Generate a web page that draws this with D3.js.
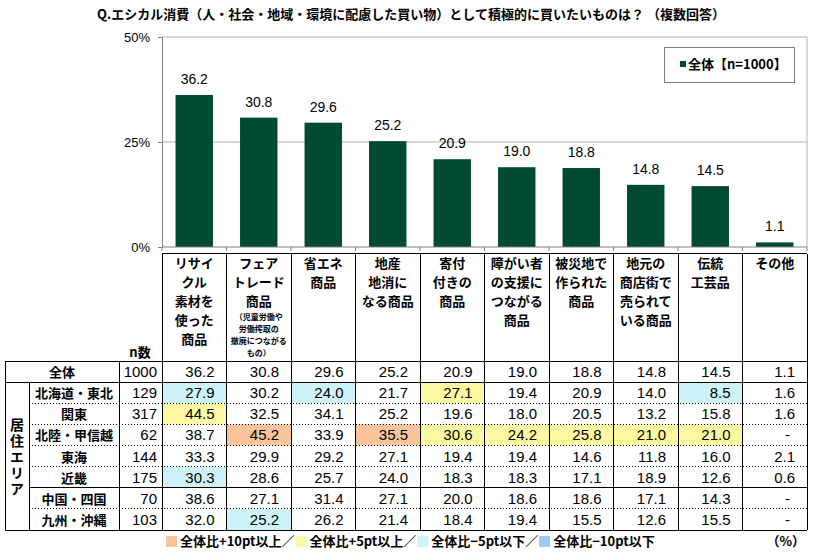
<!DOCTYPE html>
<html>
<head>
<meta charset="utf-8">
<script src="https://cdn.jsdelivr.net/npm/d3@7"></script>
<style>
  body { margin: 0; background: #fff; }
  svg { display: block; }
  .jp { font-family: "Noto Sans CJK JP", sans-serif; font-weight: bold; }
  .num { font-family: "Liberation Sans", Arial, sans-serif; }
</style>
</head>
<body>
<div id="chart"></div>
<script>
// data
const categories = ['リサイクル素材', 'フェアトレード', '省エネ', '地産地消', '寄付付き', '障がい者支援', '被災地', '地元商店街', '伝統工芸品', 'その他'];
const headerLines = [
    ['リサイ', 'クル', '素材を', '使った', '商品'],
    ['フェア', 'トレード', '商品'],
    ['省エネ', '商品'],
    ['地産', '地消に', 'なる商品'],
    ['寄付', '付きの', '商品'],
    ['障がい者', 'の支援に', 'つながる', '商品'],
    ['被災地で', '作られた', '商品'],
    ['地元の', '商店街で', '売られて', 'いる商品'],
    ['伝統', '工芸品'],
    ['その他']
];
const fairNote = ['（児童労働や', '労働搾取の', '撤廃につながる', 'もの）'];
const overall = [36.2, 30.8, 29.6, 25.2, 20.9, 19.0, 18.8, 14.8, 14.5, 1.1];
const overallN = 1000;
const regions = ['北海道・東北', '関東', '北陸・甲信越', '東海', '近畿', '中国・四国', '九州・沖縄'];
const regionN = [129, 317, 62, 144, 175, 70, 103];
const hokkaido = [27.9, 30.2, 24.0, 21.7, 27.1, 19.4, 20.9, 14.0, 8.5, 1.6];
const kanto = [44.5, 32.5, 34.1, 25.2, 19.6, 18.0, 20.5, 13.2, 15.8, 1.6];
const hokuriku = [38.7, 45.2, 33.9, 35.5, 30.6, 24.2, 25.8, 21.0, 21.0, null];
const tokai = [33.3, 29.9, 29.2, 27.1, 19.4, 19.4, 14.6, 11.8, 16.0, 2.1];
const kinki = [30.3, 28.6, 25.7, 24.0, 18.3, 18.3, 17.1, 18.9, 12.6, 0.6];
const chugoku = [38.6, 27.1, 31.4, 27.1, 20.0, 18.6, 18.6, 17.1, 14.3, null];
const kyushu = [32.0, 25.2, 26.2, 21.4, 18.4, 19.4, 15.5, 12.6, 15.5, null];
const regionValues = [hokkaido, kanto, hokuriku, tokai, kinki, chugoku, kyushu];
const yTicks = [0, 25, 50];
const legendItems = [
    { label: '全体比+10pt以上', color: '#f9c49b' },
    { label: '全体比+5pt以上', color: '#fdf9a3' },
    { label: '全体比−5pt以下', color: '#cdf3f8' },
    { label: '全体比−10pt以下', color: '#9fc8f4' }
];

const width = 813, height = 554;
const barColor = '#004a31';

const svg = d3.select('#chart').append('svg')
    .attr('width', width)
    .attr('height', height);

// title
svg.append('text')
    .attr('class', 'jp')
    .attr('x', 411).attr('y', 19)
    .attr('text-anchor', 'middle')
    .style('font-size', '13px')
    .text('Q.エシカル消費（人・社会・地域・環境に配慮した買い物）として積極的に買いたいものは？ （複数回答）');

// scales
const xCol = d3.scaleBand().domain(categories).range([162, 807]);
const xBar = d3.scaleBand().domain(categories).range([162, 807]).paddingInner(0.42).paddingOuter(0.21);
const y = d3.scaleLinear().domain([0, 50]).range([247, 37]);

// gridlines
svg.append('g')
    .selectAll('line')
    .data(yTicks.filter(d => d > 0))
    .enter().append('line')
    .attr('x1', 162).attr('x2', 807)
    .attr('y1', d => y(d)).attr('y2', d => y(d))
    .attr('stroke', '#b0b0b0');
svg.append('line')
    .attr('x1', 807).attr('x2', 807)
    .attr('y1', y(50)).attr('y2', y(0))
    .attr('stroke', '#b0b0b0');

// bars
svg.append('g')
    .selectAll('rect')
    .data(overall)
    .enter().append('rect')
    .attr('x', (d, i) => xBar(categories[i]))
    .attr('width', xBar.bandwidth())
    .attr('y', d => y(d))
    .attr('height', d => y(0) - y(d))
    .attr('fill', barColor);

svg.append('g')
    .selectAll('text')
    .data(overall)
    .enter().append('text')
    .attr('class', 'num')
    .attr('x', (d, i) => xCol(categories[i]) + xCol.bandwidth() / 2)
    .attr('y', d => y(d) - 11)
    .attr('text-anchor', 'middle')
    .style('font-size', '14px')
    .text(d => d.toFixed(1));

// y axis
const yAxis = svg.append('g')
    .attr('transform', 'translate(162,0)')
    .call(d3.axisLeft(y).tickValues(yTicks).tickSize(4).tickPadding(8).tickFormat(d => d + '%'));
yAxis.select('.domain').attr('stroke', '#808080');
yAxis.selectAll('.tick line').attr('stroke', '#808080');
yAxis.selectAll('.tick text')
    .attr('class', 'num')
    .style('font-size', '13px')
    .attr('fill', '#000');

// x axis line with ticks at category boundaries
const xAxis = svg.append('g')
    .attr('transform', `translate(0,${y(0)})`);
xAxis.append('line')
    .attr('x1', 162).attr('x2', 807)
    .attr('stroke', '#808080');
xAxis.selectAll('.xt')
    .data(categories.concat(['end']))
    .enter().append('line')
    .attr('class', 'xt')
    .attr('x1', (d, i) => 162 + i * xCol.step())
    .attr('x2', (d, i) => 162 + i * xCol.step())
    .attr('y1', 0).attr('y2', 4)
    .attr('stroke', '#808080');

// legend
const legend = svg.append('g');
legend.append('rect')
    .attr('x', 664.5).attr('y', 47.5)
    .attr('width', 130).attr('height', 35)
    .attr('fill', '#fff')
    .attr('stroke', '#808080');
legend.append('rect')
    .attr('x', 680).attr('y', 61)
    .attr('width', 6).attr('height', 6)
    .attr('fill', barColor);
legend.append('text')
    .attr('class', 'jp')
    .attr('x', 688).attr('y', 69)
    .style('font-size', '13px')
    .text('全体【n=1000】');

// table
const headerTop = 253.5;
const rowKeys = ['全体'].concat(regions);
const row = d3.scaleBand().domain(rowKeys).range([361, 530]);
const tableLeft = 5, regionRight = 29, nameRight = 119, nRight = 162, tableRight = 807;

function cellColor(v, base) {
    if (v == null) return null;
    const diff = Math.round((v - base) * 10) / 10;
    if (diff >= 10) return legendItems[0].color;
    if (diff >= 5) return legendItems[1].color;
    if (diff <= -10) return legendItems[3].color;
    if (diff <= -5) return legendItems[2].color;
    return null;
}

// highlighted cells
const cells = svg.append('g');
regionValues.forEach((vals, r) => {
    vals.forEach((v, c) => {
        const col = cellColor(v, overall[c]);
        if (!col) return;
        cells.append('rect')
            .attr('x', xCol(categories[c]))
            .attr('y', row(regions[r]))
            .attr('width', xCol.bandwidth())
            .attr('height', row.bandwidth())
            .attr('fill', col);
    });
});

// header texts (one text element per column)
const lineStep = 18.9;
const head = svg.append('g');
headerLines.forEach((lines, i) => {
    const cx = xCol(categories[i]) + xCol.bandwidth() / 2;
    const t = head.append('text')
        .attr('class', 'jp')
        .attr('text-anchor', 'middle')
        .style('font-size', '13px');
    lines.forEach((line, j) => {
        t.append('tspan')
            .attr('x', cx).attr('y', 268 + j * lineStep)
            .text(line);
    });
    if (i === 1) {
        fairNote.forEach((line, j) => {
            t.append('tspan')
                .attr('x', cx).attr('y', 319.5 + j * 12.2)
                .style('font-size', '8px')
                .text(line);
        });
    }
});
head.append('text')
    .attr('class', 'jp')
    .attr('x', 140).attr('y', 357)
    .attr('text-anchor', 'middle')
    .style('font-size', '13px')
    .text('n数');

// row labels and values
const body = svg.append('g');
const allRows = [{ label: '全体', n: overallN, vals: overall }]
    .concat(regions.map((r, i) => ({ label: r, n: regionN[i], vals: regionValues[i] })));

allRows.forEach((d, r) => {
    const cy = row(d.label) + row.bandwidth() / 2 + 5.5;
    body.append('text')
        .attr('class', 'jp')
        .attr('x', r === 0 ? (tableLeft + nameRight) / 2 : (regionRight + nameRight) / 2)
        .attr('y', cy)
        .attr('text-anchor', 'middle')
        .style('font-size', '13px')
        .text(d.label);
    body.append('text')
        .attr('class', 'num')
        .attr('x', nRight - 5).attr('y', cy)
        .attr('text-anchor', 'end')
        .style('font-size', '15px')
        .text(d.n);
    d.vals.forEach((v, c) => {
        body.append('text')
            .attr('class', 'num')
            .attr('x', xCol(categories[c]) + xCol.bandwidth() - (v == null ? 17 : 12))
            .attr('y', cy)
            .attr('text-anchor', 'end')
            .style('font-size', '15px')
            .text(v == null ? '-' : v.toFixed(1));
    });
});

// vertical region label
body.append('text')
    .attr('class', 'jp')
    .attr('x', (tableLeft + regionRight) / 2)
    .attr('y', 418)
    .style('font-size', '14px')
    .style('writing-mode', 'vertical-rl')
    .style('letter-spacing', '2px')
    .text('居住エリア');

// grid lines of table
const grid = svg.append('g').attr('stroke', '#000').attr('shape-rendering', 'crispEdges');
function hline(x1, x2, yy, dotted) {
    grid.append('line')
        .attr('x1', x1).attr('x2', x2)
        .attr('y1', yy).attr('y2', yy)
        .attr('stroke-dasharray', dotted ? '1,2' : null);
}
function vline(xx, y1, y2) {
    grid.append('line')
        .attr('x1', xx).attr('x2', xx)
        .attr('y1', y1).attr('y2', y2);
}
hline(nRight, tableRight, headerTop, false);
hline(tableLeft, tableRight, row('全体'), false);
hline(tableLeft, tableRight, row(regions[0]), false);
regions.slice(1).forEach(r => {
    hline(regionRight, tableRight, row(r), r !== '中国・四国');
});
hline(tableLeft, tableRight, row.range()[1], false);
vline(tableLeft, row('全体'), row.range()[1]);
vline(regionRight, row(regions[0]), row.range()[1]);
vline(nameRight, row('全体'), row.range()[1]);
categories.forEach(c => vline(xCol(c), headerTop, row.range()[1]));
vline(tableRight, headerTop, row.range()[1]);

// footer legend
const foot = svg.append('g');
let fx = 166;
const fy = 546;
legendItems.forEach((item, i) => {
    foot.append('rect')
        .attr('x', fx).attr('y', fy - 10)
        .attr('width', 11).attr('height', 11)
        .attr('fill', item.color);
    fx += 14;
    const t = foot.append('text')
        .attr('class', 'jp')
        .attr('x', fx).attr('y', fy)
        .style('font-size', '13px')
        .text(item.label + (i < legendItems.length - 1 ? '／' : ''));
    fx += t.node().getComputedTextLength() + 1;
});
foot.append('text')
    .attr('class', 'jp')
    .attr('x', 805).attr('y', fy)
    .attr('text-anchor', 'end')
    .style('font-size', '13px')
    .text('（%）');
</script>
</body>
</html>
